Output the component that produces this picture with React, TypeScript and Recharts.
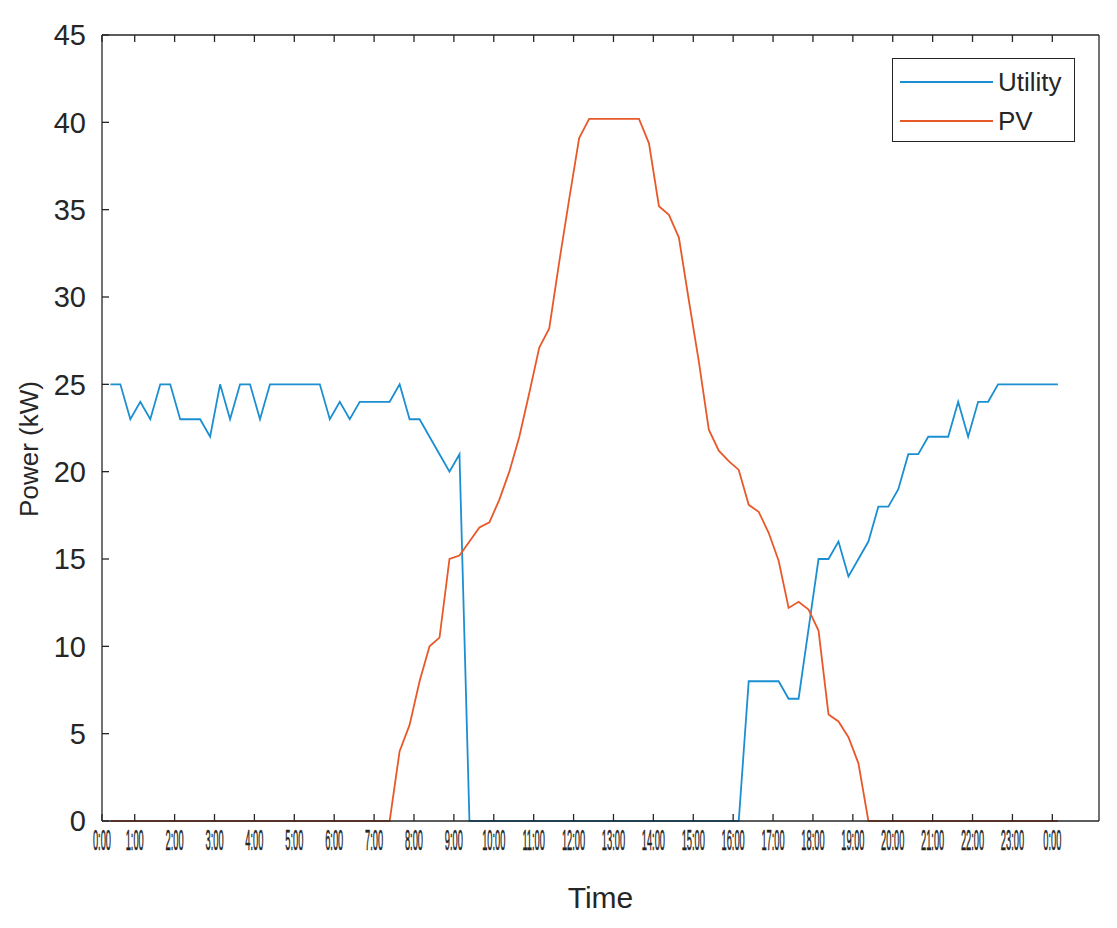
import React from 'react';
import { LineChart, Line, XAxis, YAxis, Legend, Label } from 'recharts';

// 15-minute samples
const utility = [
  25, 25, 23, 24, 23, 25, 25, 23, 23, 23, 22, 25, 23, 25, 25, 23,
  25, 25, 25, 25, 25, 25, 23, 24, 23, 24, 24, 24, 24, 25, 23, 23,
  22, 21, 20, 21, 0, 0, 0, 0, 0, 0, 0, 0, 0, 0, 0, 0,
  0, 0, 0, 0, 0, 0, 0, 0, 0, 0, 0, 0, 0, 0, 0, 0,
  8, 8, 8, 8, 7, 7, 11, 15, 15, 16, 14, 15, 16, 18, 18, 19,
  21, 21, 22, 22, 22, 24, 22, 24, 24, 25, 25, 25, 25, 25, 25, 25,
];

const pv = [
  0, 0, 0, 0, 0, 0, 0, 0, 0, 0, 0, 0, 0, 0, 0, 0,
  0, 0, 0, 0, 0, 0, 0, 0, 0, 0, 0, 0, 0, 4, 5.5, 8,
  10, 10.5, 15, 15.2, 16, 16.8, 17.1, 18.4, 20, 22, 24.5, 27.1, 28.2, 32, 35.6, 39.1,
  40.2, 40.2, 40.2, 40.2, 40.2, 40.2, 38.8, 35.2, 34.7, 33.4, 29.8, 26.3, 22.4, 21.2, 20.6, 20.1,
  18.1, 17.7, 16.5, 14.9, 12.2, 12.55, 12.1, 10.9, 6.1, 5.7, 4.8, 3.3, 0, 0, 0, 0,
  0, 0, 0, 0, 0, 0, 0, 0, 0, 0, 0, 0, 0, 0, 0, 0,
];

// sample clock in hours (first sample a little after midnight)
const firstSample = 0.39;
const step = 0.25;

const tickHours = [0.18, 1, 2, 3, 4, 5, 6, 7, 8, 9, 10, 11, 12, 13, 14, 15, 16, 17, 18, 19, 20, 21, 22, 23, 24];
const tickLabels = [
  '0:00', '1:00', '2:00', '3:00', '4:00', '5:00', '6:00', '7:00', '8:00', '9:00', '10:00', '11:00', '12:00',
  '13:00', '14:00', '15:00', '16:00', '17:00', '18:00', '19:00', '20:00', '21:00', '22:00', '23:00', '0:00',
];
const powerTicks = [0, 5, 10, 15, 20, 25, 30, 35, 40, 45];
const legendOrder = ['Utility', 'PV'];

const UTILITY_COLOR = '#1b8fd2';
const PV_COLOR = '#e8592a';
const INK = '#262626';
const FONT = '"Liberation Sans", Arial, Helvetica, sans-serif';

const data = utility.map((u, i) => ({
  t: firstSample + step * i,
  utility: u,
  pv: pv[i],
}));

function TimeTick({ x, y, payload }: any) {
  const label = tickLabels[tickHours.indexOf(payload.value)];
  return (
    <text
      transform={`translate(${x},${y + 29}) scale(0.31,1)`}
      textAnchor="middle"
      fontSize={30}
      fontFamily={FONT}
      fill={INK}
      stroke={INK}
      strokeWidth={0.5}
    >
      {label}
    </text>
  );
}

function LegendBox({ payload }: any) {
  const items = legendOrder
    .map((name) => (payload || []).find((p: any) => p.value === name))
    .filter(Boolean);
  return (
    <div
      style={{
        position: 'relative',
        width: 183,
        height: 84,
        boxSizing: 'border-box',
        border: `1.3px solid ${INK}`,
        background: '#fff',
        fontFamily: FONT,
      }}
    >
      {items.map((entry: any, i: number) => (
        <div key={entry.value} style={{ position: 'absolute', left: 7, top: 8 + i * 38.6, height: 30, display: 'flex', alignItems: 'center' }}>
          <svg width={93} height={4} style={{ display: 'block' }}>
            <line x1={0} y1={2} x2={93} y2={2} stroke={entry.color} strokeWidth={1.8} />
          </svg>
          <span style={{ marginLeft: 5, fontSize: 26, color: INK, lineHeight: '30px' }}>{entry.value}</span>
        </div>
      ))}
    </div>
  );
}

export default function App() {
  return (
    <div style={{ position: 'absolute', left: 0, top: 0, width: 1117, height: 928, background: '#fff' }}>
      <LineChart width={1117} height={928} data={data} margin={{ top: 34, right: 17, bottom: 7, left: 0 }}>
        <XAxis
          dataKey="t"
          type="number"
          domain={[0.18, 25.17]}
          ticks={tickHours}
          interval={0}
          height={100}
          tickSize={-7}
          tickMargin={7}
          tick={<TimeTick />}
          axisLine={{ stroke: INK, strokeWidth: 1.3 }}
          tickLine={{ stroke: INK, strokeWidth: 1.3 }}
        >
          <Label value="Time" position="insideBottom" offset={13} fontSize={30} fontFamily={FONT} fill={INK} />
        </XAxis>
        <XAxis
          xAxisId="top"
          orientation="top"
          dataKey="t"
          type="number"
          domain={[0.18, 25.17]}
          ticks={tickHours}
          interval={0}
          height={1}
          tickSize={-7}
          tickFormatter={() => ''}
          axisLine={{ stroke: INK, strokeWidth: 1.3 }}
          tickLine={{ stroke: INK, strokeWidth: 1.3 }}
        />
        <YAxis
          type="number"
          domain={[0, 45]}
          ticks={powerTicks}
          interval={0}
          width={102}
          tickSize={-7}
          tickMargin={23}
          tick={{ fontSize: 29, fontFamily: FONT, fill: INK }}
          axisLine={{ stroke: INK, strokeWidth: 1.3 }}
          tickLine={{ stroke: INK, strokeWidth: 1.3 }}
        >
          <Label
            content={({ viewBox }: any) => {
              const cx = viewBox.x + 29;
              const cy = viewBox.y + viewBox.height / 2 + 21;
              return (
                <text
                  transform={`translate(${cx},${cy}) rotate(-90)`}
                  textAnchor="middle"
                  dominantBaseline="central"
                  fontSize={26}
                  fontFamily={FONT}
                  fill={INK}
                >
                  Power (kW)
                </text>
              );
            }}
          />
        </YAxis>
        <YAxis
          yAxisId="r"
          orientation="right"
          type="number"
          domain={[0, 45]}
          ticks={powerTicks}
          interval={0}
          width={1}
          tickSize={-7}
          tickFormatter={() => ''}
          axisLine={{ stroke: INK, strokeWidth: 1.3 }}
          tickLine={{ stroke: INK, strokeWidth: 1.3 }}
        />
        <Legend
          layout="vertical"
          align="center"
          verticalAlign="middle"
          content={<LegendBox />}
          wrapperStyle={{ position: 'absolute', left: 892, top: 58, width: 183, height: 84, margin: 0 }}
        />
        <Line
          type="linear"
          dataKey="utility"
          name="Utility"
          stroke={UTILITY_COLOR}
          strokeWidth={1.8}
          dot={false}
          isAnimationActive={false}
        />
        <Line
          type="linear"
          dataKey="pv"
          name="PV"
          stroke={PV_COLOR}
          strokeWidth={1.8}
          dot={false}
          isAnimationActive={false}
        />
      </LineChart>
    </div>
  );
}
